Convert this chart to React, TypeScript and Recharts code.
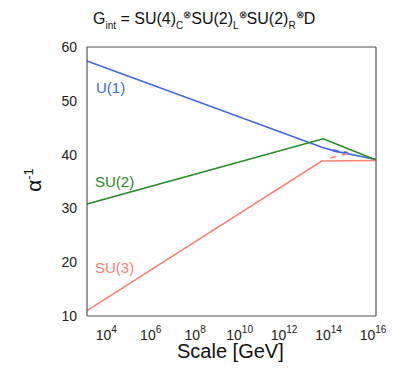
import { LineChart, Line, XAxis, YAxis } from 'recharts'

// x values are log10(scale / GeV)
const u1X = [3, 13.6, 14.2, 16]
const u1Y = [57.4, 41.3, 40.6, 39.1]
const u1DashX = [14.05, 14.75]
const u1DashY = [40.8, 40.3]
const su2X = [3, 13.63, 16]
const su2Y = [30.8, 42.95, 39.0]
const su3X = [3, 13.56, 16]
const su3Y = [11.0, 38.8, 38.9]
const su3DashX = [13.94, 14.83]
const su3DashY = [39.35, 40.3]

const xTicks = [4, 5, 6, 7, 8, 9, 10, 11, 12, 13, 14, 15]
const yTicks = [20, 30, 40, 50]
const yLabels = [10, 20, 30, 40, 50, 60]
const xLabels = [4, 6, 8, 10, 12, 14, 16]

const X_MIN = 3
const X_MAX = 16
const Y_MIN = 10
const Y_MAX = 60

const W = 401
const H = 374
const M = { top: 47, right: 25, bottom: 58, left: 87 }
const FRAME = '#555'
const TICK = { stroke: '#333', strokeWidth: 1.5 }
const FONT = '"Liberation Sans", Arial, Helvetica, sans-serif'

const zip = (xs: number[], ys: number[]) => xs.map((x, i) => ({ x, y: ys[i] }))

if (typeof document !== 'undefined') document.body.style.margin = '0'

function BottomLabel(props: any) {
  const { x, y, payload } = props
  const v = payload.value as number
  return (
    <text x={x - 3} y={y + 22} textAnchor="middle" fontFamily={FONT} fontSize={14} fill="#222">
      <tspan>10</tspan>
      <tspan dy={-7} fontSize={10}>{v}</tspan>
    </text>
  )
}

function LeftLabel(props: any) {
  const { x, y, payload } = props
  return (
    <text x={x - 8} y={y + 5} textAnchor="end" fontFamily={FONT} fontSize={14} fill="#222">
      {payload.value}
    </text>
  )
}

const NoLabel = () => <g />

export default function App() {
  const sub = { fontSize: 10 }
  return (
    <div style={{ position: 'relative', width: W, height: H, background: '#fff', fontFamily: FONT }}>
      <div style={{ position: 'absolute', left: 93, top: 9, fontSize: 16, color: '#111', whiteSpace: 'nowrap' }}>
        G<sub style={sub}>int</sub> = SU(4)<sub style={sub}>C</sub>
        <sup style={sub}>⊗</sup>SU(2)<sub style={sub}>L</sub>
        <sup style={sub}>⊗</sup>SU(2)<sub style={sub}>R</sub>
        <sup style={sub}>⊗</sup>D
      </div>
      <LineChart width={W} height={H} margin={{ top: 0, right: 0, bottom: 0, left: 0 }}>
        {/* labels only */}
        <XAxis
          xAxisId="b"
          type="number"
          dataKey="x"
          domain={[X_MIN, X_MAX]}
          ticks={xLabels}
          interval={0}
          stroke={FRAME}
          strokeWidth={1.2}
          tickLine={false}
          tickSize={0}
          tick={BottomLabel}
          height={M.bottom}
        />
        {/* inward tick marks on the bottom frame */}
        <XAxis
          xAxisId="bt"
          type="number"
          dataKey="x"
          domain={[X_MIN, X_MAX]}
          ticks={xTicks}
          interval={0}
          axisLine={false}
          tickLine={TICK}
          tickSize={-7}
          tick={NoLabel}
          height={0}
        />
        <XAxis
          xAxisId="t"
          orientation="top"
          type="number"
          dataKey="x"
          domain={[X_MIN, X_MAX]}
          ticks={xTicks}
          interval={0}
          stroke={FRAME}
          strokeWidth={1.2}
          tickLine={TICK}
          tickSize={-7}
          tick={NoLabel}
          height={M.top}
        />
        <YAxis
          yAxisId="l"
          type="number"
          domain={[Y_MIN, Y_MAX]}
          ticks={yLabels}
          interval={0}
          stroke={FRAME}
          strokeWidth={1.2}
          tickLine={false}
          tickSize={0}
          tick={LeftLabel}
          width={M.left}
        />
        <YAxis
          yAxisId="lt"
          type="number"
          domain={[Y_MIN, Y_MAX]}
          ticks={yTicks}
          interval={0}
          axisLine={false}
          tickLine={TICK}
          tickSize={-7}
          tick={NoLabel}
          width={0}
        />
        <YAxis
          yAxisId="r"
          orientation="right"
          type="number"
          domain={[Y_MIN, Y_MAX]}
          ticks={yTicks}
          interval={0}
          stroke={FRAME}
          strokeWidth={1.2}
          tickLine={TICK}
          tickSize={-7}
          tick={NoLabel}
          width={M.right}
        />

        <Line xAxisId="b" yAxisId="l" data={zip(u1X, u1Y)} dataKey="y" stroke="#4169e1" strokeWidth={1.6} dot={false} isAnimationActive={false} />
        <Line xAxisId="b" yAxisId="l" data={zip(u1DashX, u1DashY)} dataKey="y" stroke="#4169e1" strokeWidth={2.2} strokeDasharray="6 5" dot={false} isAnimationActive={false} />
        <Line xAxisId="b" yAxisId="l" data={zip(su2X, su2Y)} dataKey="y" stroke="#228b22" strokeWidth={1.6} dot={false} isAnimationActive={false} />
        <Line xAxisId="b" yAxisId="l" data={zip(su3X, su3Y)} dataKey="y" stroke="#fa8072" strokeWidth={1.6} dot={false} isAnimationActive={false} />
        <Line xAxisId="b" yAxisId="l" data={zip(su3DashX, su3DashY)} dataKey="y" stroke="#fa8072" strokeWidth={1.6} strokeDasharray="6 6" dot={false} isAnimationActive={false} />
      </LineChart>
      <div style={{ position: 'absolute', left: 96, top: 79, fontSize: 15, color: '#4169e1' }}>U(1)</div>
      <div style={{ position: 'absolute', left: 95, top: 173, fontSize: 15, color: '#228b22' }}>SU(2)</div>
      <div style={{ position: 'absolute', left: 95, top: 259, fontSize: 15, color: '#fa8072' }}>SU(3)</div>
      <div style={{ position: 'absolute', left: 177, top: 340, fontSize: 20, color: '#111' }}>Scale [GeV]</div>
      <div
        style={{
          position: 'absolute',
          left: 33,
          top: 180,
          fontSize: 21,
          color: '#111',
          transform: 'translate(-50%, -50%) rotate(-90deg)',
          whiteSpace: 'nowrap',
        }}
      >
        α<sup style={{ fontSize: 13 }}>-1</sup>
      </div>
    </div>
  )
}
